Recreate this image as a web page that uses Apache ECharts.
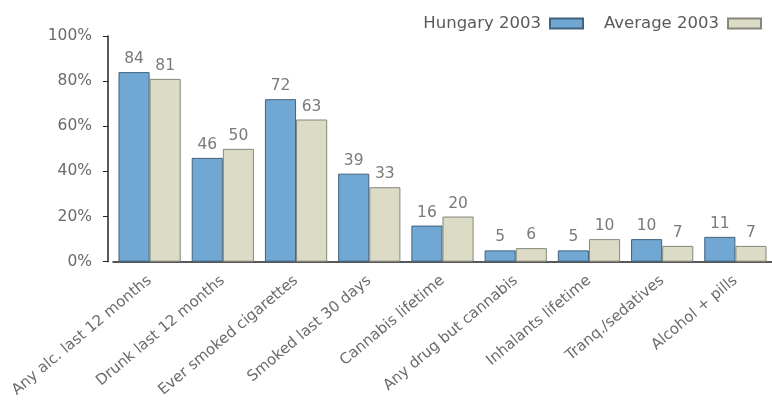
<!DOCTYPE html>
<html>
<head>
<meta charset="utf-8">
<script src="https://cdn.jsdelivr.net/npm/echarts@6/dist/echarts.min.js"></script>
<style>html,body{margin:0;padding:0;background:#fff}#c{width:772px;height:400px}</style>
</head>
<body>
<div id="c"></div>
<script>
var categories = ["Any alc. last 12 months","Drunk last 12 months","Ever smoked cigarettes","Smoked last 30 days","Cannabis lifetime","Any drug but cannabis","Inhalants lifetime","Tranq./sedatives","Alcohol + pills"];
var hungary = [84, 46, 72, 39, 16, 5, 5, 10, 11];
var average = [81, 50, 63, 33, 20, 6, 10, 7, 7];
var seriesNames = ["Hungary 2003", "Average 2003"];

var chart = echarts.init(document.getElementById('c'), null, {renderer: 'canvas'});
var font = '"DejaVu Sans", Verdana, sans-serif';
chart.setOption({
  animation: false,
  legend: {
    top: 10, right: 5,
    align: 'right',
    icon: 'rect',
    itemWidth: 33, itemHeight: 10, itemGap: 20,
    textStyle: {fontFamily: font, fontSize: 16.5, color: '#5a5a5a', padding: [0, 4, 0, 0]},
    data: seriesNames
  },
  grid: {left: 113, right: -2, top: 36, bottom: 138},
  xAxis: {
    type: 'category',
    data: categories,
    axisLine: {lineStyle: {color: '#222', width: 1.5}},
    axisTick: {alignWithLabel: true, length: 5, lineStyle: {color: '#222'}},
    axisLabel: {rotate: 40, fontFamily: font, fontSize: 15, color: '#6a6a6a', margin: 17, interval: 0}
  },
  yAxis: {
    type: 'value', min: 0, max: 100, interval: 20,
    offset: 5,
    splitLine: {show: false},
    axisLine: {show: true, lineStyle: {color: '#222', width: 1.5}},
    axisTick: {show: true, length: 5, lineStyle: {color: '#222'}},
    axisLabel: {formatter: '{value}%', fontFamily: font, fontSize: 15.5, color: '#6a6a6a', margin: 16}
  },
  series: [
    {
      name: seriesNames[0], type: 'bar', data: hungary,
      barGap: '0%', barCategoryGap: '15%',
      itemStyle: {color: '#70a7d3', borderColor: '#43627e', borderWidth: 1},
      label: {show: true, position: 'top', distance: 5, fontFamily: font, fontSize: 15.5, color: '#7a7a7a'}
    },
    {
      name: seriesNames[1], type: 'bar', data: average,
      itemStyle: {color: '#dcdcc6', borderColor: '#86867a', borderWidth: 1},
      label: {show: true, position: 'top', distance: 5, fontFamily: font, fontSize: 15.5, color: '#7a7a7a'}
    }
  ]
});
</script>
</body>
</html>
